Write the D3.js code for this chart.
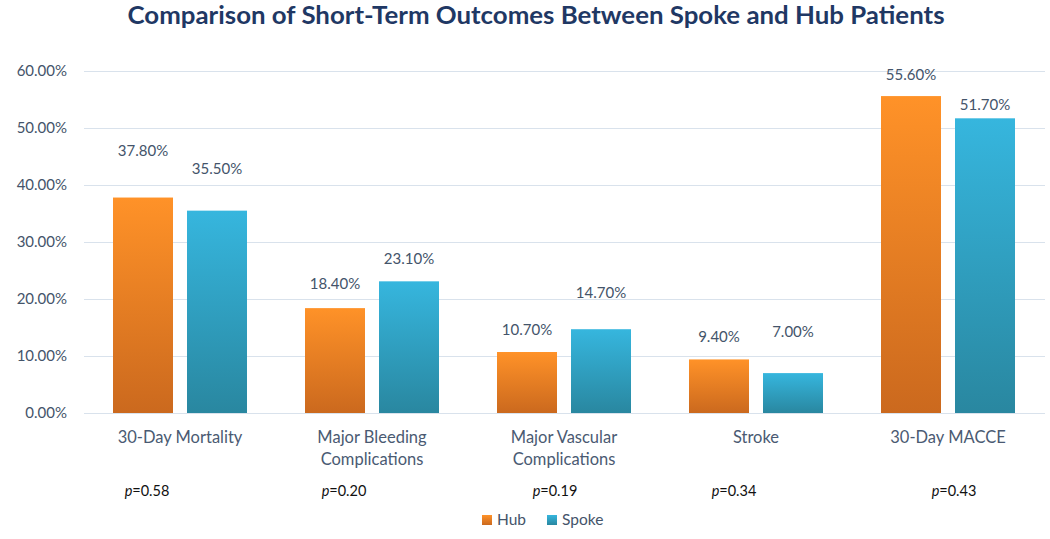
<!DOCTYPE html>
<html><head><meta charset="utf-8">
<script src="https://cdn.jsdelivr.net/npm/d3@7"></script>
<style>body{margin:0;background:#fff}svg{display:block}text{font-family:Lato,"Open Sans",sans-serif}</style>
</head><body><svg id="c" width="1050" height="539"></svg>
<script>
// ---- data ----
const categories = [["30-Day Mortality"], ["Major Bleeding", "Complications"], ["Major Vascular", "Complications"], ["Stroke"], ["30-Day MACCE"]];
const series = ["Hub", "Spoke"];
const hubValues = [37.8, 18.4, 10.7, 9.4, 55.6];
const spokeValues = [35.5, 23.1, 14.7, 7.0, 51.7];
const pValues = ["0.58", "0.20", "0.19", "0.34", "0.43"];
const yTicks = [0, 10, 20, 30, 40, 50, 60];
const title = "Comparison of Short-Term Outcomes Between Spoke and Hub Patients";

// ---- layout (not data) ----
const labelLift = [[47, 42], [24, 22], [22, 36], [22, 41], [21, 13]];
const pShift = [-33, -28, -9, -22, 6];

(function () {
const svg = d3.select("#c");
const pL = 84, pR = 1044, pT = 71, pB = 413;
const x0 = d3.scaleBand().domain(d3.range(categories.length)).range([pL, pR]).padding(0);
const x1 = d3.scaleBand().domain(series).range([29, 163]).paddingInner(14 / 74).paddingOuter(0);
const y = d3.scaleLinear().domain([0, 60]).range([pB, pT]);
const textColor = "#44546A";

const defs = svg.append("defs");
const grads = {Hub: ["#FF9228", "#CB691E"], Spoke: ["#36B6DE", "#2987A0"]};
Object.entries(grads).forEach(([k, c]) => {
  const g = defs.append("linearGradient").attr("id", "g" + k).attr("x1", 0).attr("y1", 0).attr("x2", 0).attr("y2", 1);
  g.append("stop").attr("offset", "0%").attr("stop-color", c[0]);
  g.append("stop").attr("offset", "100%").attr("stop-color", c[1]);
});

// title
svg.append("text").attr("x", 536).attr("y", 24).attr("text-anchor", "middle")
  .attr("font-size", 24).attr("font-weight", "bold").attr("fill", "#1F3864")
  .attr("textLength", 817).attr("lengthAdjust", "spacingAndGlyphs").text(title);

// y axis
const yAxis = d3.axisLeft(y).tickValues(yTicks).tickSize(-(pR + 1 - pL)).tickFormat(d => d.toFixed(2) + "%");
const ga = svg.append("g").attr("transform", `translate(${pL},0)`).call(yAxis);
ga.select(".domain").remove();
ga.selectAll(".tick line").attr("stroke", "#D9E2EC").attr("stroke-width", 1.2);
ga.selectAll(".tick text").attr("x", -17).attr("fill", textColor).attr("font-size", 15).attr("font-family", "Lato");

// bars
const data = categories.map((c, i) => ({i, vals: [{s: "Hub", v: hubValues[i]}, {s: "Spoke", v: spokeValues[i]}]}));
const grp = svg.append("g").selectAll("g").data(data).join("g").attr("transform", d => `translate(${x0(d.i)},0)`);
grp.selectAll("rect").data(d => d.vals).join("rect")
  .attr("x", d => x1(d.s)).attr("width", x1.bandwidth())
  .attr("y", d => y(d.v)).attr("height", d => y(0) - y(d.v))
  .attr("fill", d => `url(#g${d.s})`);
grp.selectAll("text.val").data(d => d.vals.map((v, j) => ({...v, lift: labelLift[d.i][j]}))).join("text")
  .attr("class", "val").attr("x", d => x1(d.s) + x1.bandwidth() / 2).attr("y", d => y(d.v) - d.lift + 5)
  .attr("text-anchor", "middle").attr("fill", textColor).attr("font-size", 15)
  .text(d => d.v.toFixed(2) + "%");

// category labels
const cat = svg.append("g").selectAll("text").data(categories).join("text")
  .attr("x", (d, i) => x0(i) + x0.bandwidth() / 2).attr("y", 443)
  .attr("text-anchor", "middle").attr("fill", "#4A5A72").attr("font-size", 16.5);
cat.selectAll("tspan").data(d => d).join("tspan")
  .attr("x", function() { return this.parentNode.getAttribute("x"); })
  .attr("dy", (d, j) => j === 0 ? 0 : 22).text(d => d);

// p-values
const pt = svg.append("g").selectAll("text").data(pValues).join("text")
  .attr("x", (d, i) => x0(i) + x0.bandwidth() / 2 + pShift[i]).attr("y", 496)
  .attr("text-anchor", "middle").attr("fill", "#111").attr("font-size", 14.5)
  .attr("font-family", "'Open Sans',sans-serif");
pt.append("tspan").attr("font-style", "italic").text("p");
pt.append("tspan").text(d => "=" + d);

// legend
const legX = [482, 547];
const lg = svg.append("g").selectAll("g").data(series).join("g").attr("transform", (d, i) => `translate(${legX[i]},515)`);
lg.append("rect").attr("width", 10).attr("height", 10).attr("fill", d => `url(#g${d})`);
lg.append("text").attr("x", 15).attr("y", 10).attr("fill", textColor).attr("font-size", 15.5).text(d => d);
})();
</script></body></html>
